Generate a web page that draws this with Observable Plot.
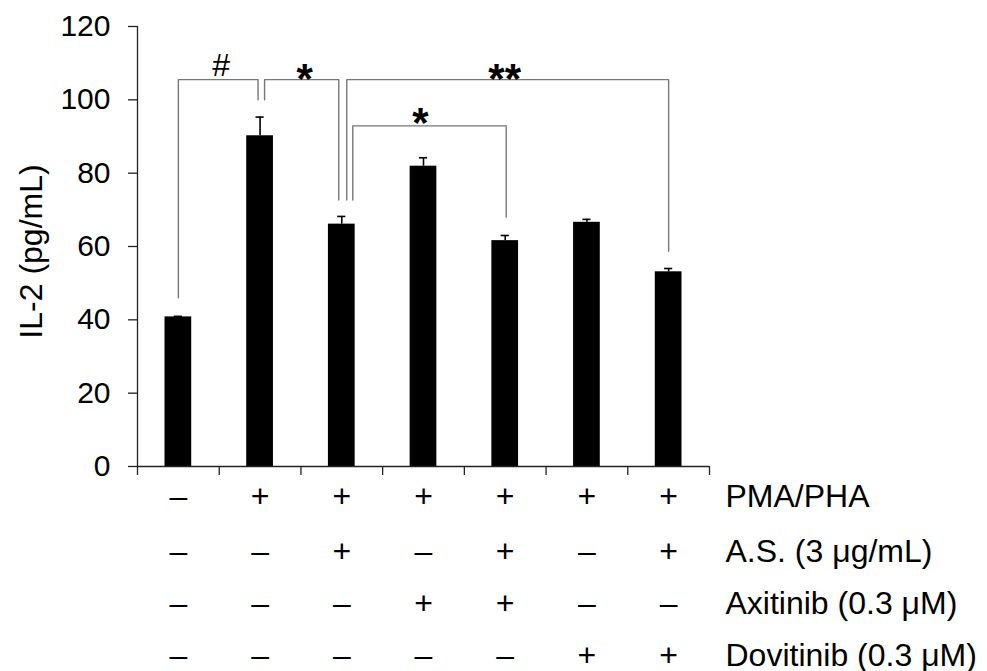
<!DOCTYPE html>
<html>
<head>
<meta charset="utf-8">
<script src="https://cdn.jsdelivr.net/npm/d3@7"></script>
<script src="https://cdn.jsdelivr.net/npm/@observablehq/plot@0.6"></script>
<style>
  html, body { margin: 0; padding: 0; background: #fff; }
  #chart svg { display: block; }
</style>
</head>
<body>
<div id="chart"></div>
<script>
// ---- data ----
const groups = [1, 2, 3, 4, 5, 6, 7];
const values = [40.8, 90.2, 66.1, 81.9, 61.6, 66.6, 53.1];
const errors = [0.15, 5.1, 2.1, 2.3, 1.4, 0.8, 0.9];
const yTicks = [0, 20, 40, 60, 80, 100, 120];
const yLabel = "IL-2 (pg/mL)";

const treatments = ["PMA/PHA", "A.S. (3 μg/mL)", "Axitinib (0.3 μM)", "Dovitinib (0.3 μM)"];
const pmaPha    = ["–", "+", "+", "+", "+", "+", "+"];
const asExtract = ["–", "–", "+", "–", "+", "–", "+"];
const axitinib  = ["–", "–", "–", "+", "+", "–", "–"];
const dovitinib = ["–", "–", "–", "–", "–", "+", "+"];
const signRows = [pmaPha, asExtract, axitinib, dovitinib];

// significance brackets (group indices, heights in pg/mL)
const bracketFrom     = [0, 1, 2, 2];
const bracketTo       = [1, 2, 6, 4];
const bracketTop      = [105.5, 105.5, 105.5, 92.9];
const bracketLeftEnd  = [46, 100, 72.7, 72.7];
const bracketRightEnd = [100, 72.7, 58.7, 68];
const bracketLabel    = ["#", "*", "**", "*"];

// ---- layout / style ----
const W = 987, H = 671;
const mL = 137, mR = 278, mT = 26, mB = 205;
const bandPx = (W - mL - mR) / groups.length;
const barHalf = 0.1635;            // half bar width, in band units
const capHalf = 0.05;
const legNudgeL = [0, 4.5, 5, 11];  // px gaps between adjacent bracket legs
const legNudgeR = [-2, -3, 0, 1];
const labelNudge = [3, 3, -3, -9];  // px shift of bracket labels
const labelLift = [-14, 0, 0, 2];   // px vertical shift of bracket labels
const rowDy = [30, 85, 137, 189];
const font = "'Liberation Sans', Arial, Helvetica, sans-serif";

const bars = groups.map((g, i) => ({i, v: values[i], e: errors[i]}));

const bracketPts = [];
const bracketLbl = [];
bracketFrom.forEach((f, k) => {
  const xl = f + 0.5 + legNudgeL[k] / bandPx;
  const xr = bracketTo[k] + 0.5 + legNudgeR[k] / bandPx;
  bracketPts.push({b: k, x: xl, y: bracketLeftEnd[k]});
  bracketPts.push({b: k, x: xl, y: bracketTop[k]});
  bracketPts.push({b: k, x: xr, y: bracketTop[k]});
  bracketPts.push({b: k, x: xr, y: bracketRightEnd[k]});
  bracketLbl.push({x: (xl + xr) / 2 + labelNudge[k] / bandPx, y: bracketTop[k], t: bracketLabel[k], k});
});

const marks = [
  // bars
  Plot.rectY(bars, {x1: d => d.i + 0.5 - barHalf, x2: d => d.i + 0.5 + barHalf, y1: 0, y2: "v", fill: "#000"}),
  // error bars (upper)
  Plot.ruleX(bars, {x: d => d.i + 0.5, y1: "v", y2: d => d.v + d.e, stroke: "#000", strokeWidth: 1.6}),
  Plot.ruleY(bars, {y: d => d.v + d.e, x1: d => d.i + 0.5 - capHalf, x2: d => d.i + 0.5 + capHalf, stroke: "#000", strokeWidth: 1.6}),
  // axes
  Plot.ruleX([0], {y1: 0, y2: 120, stroke: "#222", strokeWidth: 1.3}),
  Plot.ruleY([0], {x1: 0, x2: groups.length, stroke: "#222", strokeWidth: 1.3}),
  Plot.axisY({ticks: yTicks, tickSize: 9, tickPadding: 18, fontSize: 30, label: null, stroke: "#222", strokeWidth: 1.3, color: "#000"}),
  Plot.axisX({ticks: d3.range(groups.length + 1), tickSize: 9, tickFormat: () => "", label: null, stroke: "#222", strokeWidth: 1.3}),
  Plot.text([yLabel], {frameAnchor: "left", rotate: -90, textAnchor: "middle", dx: -106, dy: 5, fontSize: 32, fill: "#000"}),
  // brackets
  Plot.line(bracketPts, {x: "x", y: "y", z: "b", stroke: "#777", strokeWidth: 1.4, curve: "linear"}),
  Plot.text(bracketLbl.filter(d => d.t === "#"), {x: "x", y: "y", text: "t", fontSize: 32, lineAnchor: "middle", dy: labelLift[0], fill: "#000"}),
  Plot.text(bracketLbl.filter(d => d.t !== "#" && d.k !== 3), {x: "x", y: "y", text: "t", fontSize: 42, fontWeight: "bold", lineAnchor: "middle", fill: "#000"}),
  Plot.text(bracketLbl.filter(d => d.k === 3), {x: "x", y: "y", text: "t", fontSize: 42, fontWeight: "bold", lineAnchor: "middle", dy: -labelLift[3], fill: "#000"}),
];

signRows.forEach((row, r) => {
  marks.push(Plot.text(row, {x: (d, i) => i + 0.5, frameAnchor: "bottom", dy: rowDy[r], lineAnchor: "middle", fontSize: 32, fill: "#000"}));
  marks.push(Plot.text([treatments[r]], {frameAnchor: "bottom-right", dx: 16, dy: rowDy[r], lineAnchor: "middle", textAnchor: "start", fontSize: 32, fill: "#000"}));
});

const chart = Plot.plot({
  width: W, height: H,
  marginLeft: mL, marginRight: mR, marginTop: mT, marginBottom: mB,
  style: {fontFamily: font, background: "#fff", color: "#000", overflow: "visible"},
  x: {domain: [0, groups.length], axis: null},
  y: {domain: [0, 120], axis: null},
  marks
});
document.getElementById("chart").appendChild(chart);
</script>
</body>
</html>
